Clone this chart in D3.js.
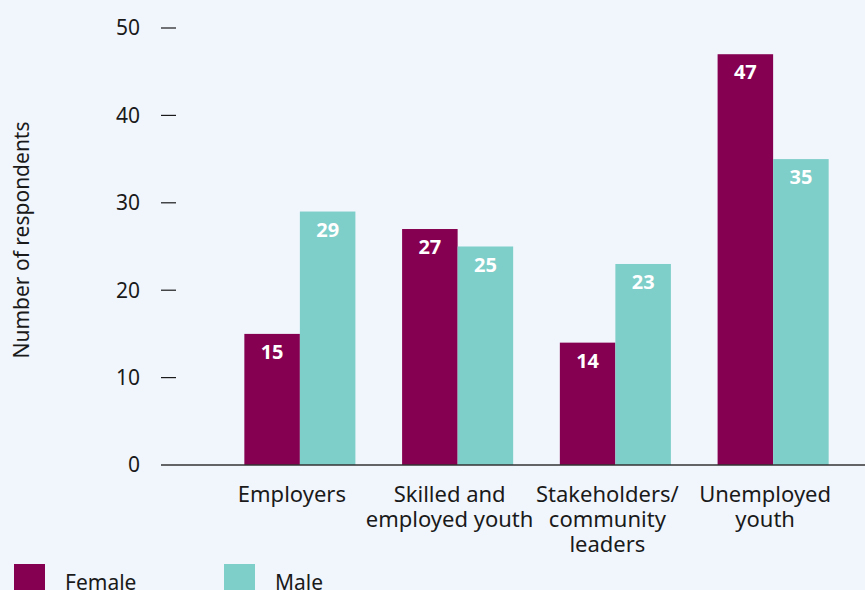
<!DOCTYPE html>
<html>
<head>
<meta charset="utf-8">
<script src="https://cdn.jsdelivr.net/npm/d3@7"></script>
<style>
  html, body { margin: 0; padding: 0; background: #f1f6fd; }
  svg { display: block; font-family: "Noto Sans", "Open Sans", sans-serif; }
</style>
</head>
<body>
<svg id="chart"></svg>
<script>
// данные диаграммы
const categories = [
  ["Employers"],
  ["Skilled and", "employed youth"],
  ["Stakeholders/", "community", "leaders"],
  ["Unemployed", "youth"]
];
const seriesNames = ["Female", "Male"];
const femaleValues = [15, 27, 14, 47];
const maleValues = [29, 25, 23, 35];
const yTicks = [0, 10, 20, 30, 40, 50];
const colors = ["#850050", "#7ecec9"];

const width = 865, height = 590;
const svg = d3.select("#chart").attr("width", width).attr("height", height);

svg.append("rect").attr("width", width).attr("height", height).attr("fill", "#f1f6fd");

const catKeys = categories.map(c => c.join(" "));

// шкалы
const scaleX = d3.scaleBand()
  .domain(catKeys)
  .range([221, 852])
  .paddingInner(0.296)
  .paddingOuter(0.148);

const scaleSub = d3.scaleBand()
  .domain(seriesNames)
  .range([0, scaleX.bandwidth()]);

const scaleY = d3.scaleLinear()
  .domain([0, 50])
  .range([465, 28]);

// ось Y: подписи и короткие черточки
const yAxis = svg.append("g").attr("class", "y-axis");
yAxis.selectAll("text")
  .data(yTicks)
  .enter().append("text")
  .attr("x", 140)
  .attr("y", d => scaleY(d))
  .attr("dy", "0.35em")
  .attr("text-anchor", "end")
  .attr("font-size", 21)
  .attr("fill", "#1a1a1a")
  .text(d => d);
yAxis.selectAll("line")
  .data(yTicks.filter(d => d > 0))
  .enter().append("line")
  .attr("x1", 161).attr("x2", 176)
  .attr("y1", d => scaleY(d)).attr("y2", d => scaleY(d))
  .attr("stroke", "#1a1a1a")
  .attr("stroke-width", 1.2);

// подпись оси Y
svg.append("text")
  .attr("transform", `translate(29, 240) rotate(-90)`)
  .attr("text-anchor", "middle")
  .attr("font-size", 21)
  .attr("fill", "#1a1a1a")
  .text("Number of respondents");

// столбики
const rows = catKeys.map((k, i) => ({ key: k, values: [femaleValues[i], maleValues[i]] }));
const groups = svg.selectAll(".grp")
  .data(rows)
  .enter().append("g")
  .attr("transform", d => `translate(${scaleX(d.key)}, 0)`);

groups.selectAll("rect")
  .data(d => d.values.map((v, j) => ({ name: seriesNames[j], value: v, idx: j })))
  .enter().append("rect")
  .attr("x", d => scaleSub(d.name))
  .attr("width", scaleSub.bandwidth())
  .attr("y", d => scaleY(d.value))
  .attr("height", d => scaleY(0) - scaleY(d.value))
  .attr("fill", d => colors[d.idx]);

groups.selectAll("text")
  .data(d => d.values.map((v, j) => ({ name: seriesNames[j], value: v })))
  .enter().append("text")
  .attr("x", d => scaleSub(d.name) + scaleSub.bandwidth() / 2)
  .attr("y", d => scaleY(d.value) + 25)
  .attr("text-anchor", "middle")
  .attr("font-size", 20)
  .attr("font-weight", "bold")
  .attr("fill", "#ffffff")
  .text(d => d.value);

// линия оси X
svg.append("line")
  .attr("x1", 161).attr("x2", width)
  .attr("y1", scaleY(0)).attr("y2", scaleY(0))
  .attr("stroke", "#333")
  .attr("stroke-width", 1.5);

// подписи категорий (немного смещены влево, как в оригинале)
categories.forEach((lines, i) => {
  const t = svg.append("text")
    .attr("text-anchor", "middle")
    .attr("font-size", 22)
    .attr("fill", "#1a1a1a");
  lines.forEach((ln, j) => {
    t.append("tspan")
      .attr("x", scaleX(catKeys[i]) + scaleX.bandwidth() / 2 - 8)
      .attr("y", 502 + j * 25)
      .text(ln);
  });
});

// легенда
const legend = svg.append("g");
const legendX = [14, 224];
seriesNames.forEach((name, i) => {
  legend.append("rect")
    .attr("x", legendX[i]).attr("y", 564)
    .attr("width", 31).attr("height", 31)
    .attr("fill", colors[i]);
  legend.append("text")
    .attr("x", legendX[i] + 51).attr("y", 590)
    .attr("font-size", 21)
    .attr("fill", "#1a1a1a")
    .text(name);
});
</script>
</body>
</html>
